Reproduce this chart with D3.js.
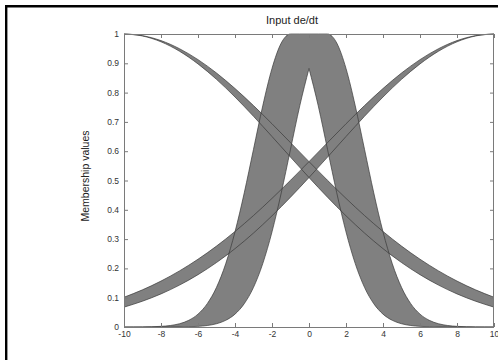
<!DOCTYPE html>
<html>
<head>
<meta charset="utf-8">
<script src="https://cdn.jsdelivr.net/npm/d3@7"></script>
<style>
  html, body { margin: 0; padding: 0; background: #fff; }
  svg { display: block; font-family: "Liberation Sans", Arial, sans-serif; }
</style>
</head>
<body>
<div id="chart"></div>
<script>
// x grid for the two shoulder sets (step 1)
const xWide = [-10, -9, -8, -7, -6, -5, -4, -3, -2, -1, 0, 1, 2, 3, 4, 5, 6, 7, 8, 9, 10];
const leftUpper = [1, 0.9943, 0.9774, 0.9498, 0.9125, 0.8668, 0.8139, 0.7556, 0.6935, 0.6292, 0.5644,
  0.5006, 0.4389, 0.3804, 0.3260, 0.2761, 0.2313, 0.1915, 0.1567, 0.1269, 0.1015];
const leftLower = [1, 0.9933, 0.9734, 0.9412, 0.8979, 0.8452, 0.7849, 0.7191, 0.6501, 0.5798, 0.5102,
  0.4430, 0.3795, 0.3207, 0.2674, 0.2200, 0.1786, 0.1430, 0.1130, 0.0881, 0.0678];
const rightUpper = [0.1015, 0.1269, 0.1567, 0.1915, 0.2313, 0.2761, 0.3260, 0.3804, 0.4389, 0.5006,
  0.5644, 0.6292, 0.6935, 0.7556, 0.8139, 0.8668, 0.9125, 0.9498, 0.9774, 0.9943, 1];
const rightLower = [0.0678, 0.0881, 0.1130, 0.1430, 0.1786, 0.2200, 0.2674, 0.3207, 0.3795, 0.4430,
  0.5102, 0.5798, 0.6501, 0.7191, 0.7849, 0.8452, 0.8979, 0.9412, 0.9734, 0.9933, 1];

// x grid for the middle set (step 0.5)
const xMid = [-10, -9.5, -9, -8.5, -8, -7.5, -7, -6.5, -6, -5.5, -5, -4.5, -4, -3.5, -3, -2.5, -2, -1.5, -1, -0.5,
  0, 0.5, 1, 1.5, 2, 2.5, 3, 3.5, 4, 4.5, 5, 5.5, 6, 6.5, 7, 7.5, 8, 8.5, 9, 9.5, 10];
const midUpper = [0, 0.0001, 0.0003, 0.0009, 0.0022, 0.0051, 0.0111, 0.0228, 0.0439, 0.0796, 0.1353, 0.2163,
  0.3247, 0.4578, 0.6065, 0.7548, 0.8825, 0.9692, 1, 1, 1, 1, 1, 0.9692, 0.8825, 0.7548, 0.6065, 0.4578,
  0.3247, 0.2163, 0.1353, 0.0796, 0.0439, 0.0228, 0.0111, 0.0051, 0.0022, 0.0009, 0.0003, 0.0001, 0];
const midLower = [0, 0, 0, 0, 0, 0.0001, 0.0003, 0.0009, 0.0022, 0.0051, 0.0111, 0.0228, 0.0439, 0.0796,
  0.1353, 0.2163, 0.3247, 0.4578, 0.6065, 0.7548, 0.8825, 0.7548, 0.6065, 0.4578, 0.3247, 0.2163, 0.1353,
  0.0796, 0.0439, 0.0228, 0.0111, 0.0051, 0.0022, 0.0009, 0.0003, 0.0001, 0, 0, 0, 0, 0];

const xTicks = [-10, -8, -6, -4, -2, 0, 2, 4, 6, 8, 10];
const yTicks = [0, 0.1, 0.2, 0.3, 0.4, 0.5, 0.6, 0.7, 0.8, 0.9, 1];
const titleText = "Input de/dt";
const yLabelText = "Membership values";

const width = 498, height = 360;
const plot = { left: 124, right: 494, top: 34, bottom: 327 };

const svg = d3.select("#chart").append("svg")
  .attr("width", width)
  .attr("height", height);

svg.append("rect").attr("width", width).attr("height", height).attr("fill", "#fff");

const x = d3.scaleLinear().domain([-10, 10]).range([plot.left, plot.right]);
const y = d3.scaleLinear().domain([0, 1]).range([plot.bottom, plot.top]);

const toRows = (xs, up, lo) => xs.map((v, i) => ({ x: v, up: up[i], lo: lo[i] }));

const bands = [
  toRows(xWide, leftUpper, leftLower),
  toRows(xWide, rightUpper, rightLower),
  // middle set is split at 0 so the lower curve keeps its sharp peak
  toRows(xMid, midUpper, midLower).filter(d => d.x <= 0),
  toRows(xMid, midUpper, midLower).filter(d => d.x >= 0)
];

const area = d3.area()
  .x(d => x(d.x))
  .y0(d => y(d.lo))
  .y1(d => y(d.up))
  .curve(d3.curveMonotoneX);

svg.append("g")
  .selectAll("path")
  .data(bands)
  .enter()
  .append("path")
  .attr("d", area)
  .attr("fill", "#808080");

// edge lines on top of all fills
const upLine = d3.line().x(d => x(d.x)).y(d => y(d.up)).curve(d3.curveMonotoneX);
const loLine = d3.line().x(d => x(d.x)).y(d => y(d.lo)).curve(d3.curveMonotoneX);
const edges = svg.append("g")
  .attr("fill", "none")
  .attr("stroke", "#3a3a3a")
  .attr("stroke-width", 0.7);
bands.forEach(b => {
  edges.append("path").attr("d", upLine(b));
  edges.append("path").attr("d", loLine(b));
});

// axes box with inward ticks, matlab style
const axisColor = "#7a7a7a";
const fmtY = d => (d === 0 || d === 1) ? String(d) : d.toFixed(1);

const gLeft = svg.append("g").attr("transform", `translate(${plot.left},0)`)
  .call(d3.axisLeft(y).tickValues(yTicks).tickFormat(fmtY).tickSize(-4).tickPadding(5));
const gRight = svg.append("g").attr("transform", `translate(${plot.right},0)`)
  .call(d3.axisRight(y).tickValues(yTicks).tickFormat("").tickSize(-4));
const gBottom = svg.append("g").attr("transform", `translate(0,${plot.bottom})`)
  .call(d3.axisBottom(x).tickValues(xTicks).tickFormat(d => String(d)).tickSize(-4).tickPadding(4));
const gTop = svg.append("g").attr("transform", `translate(0,${plot.top})`)
  .call(d3.axisTop(x).tickValues(xTicks).tickFormat("").tickSize(-4));

[gLeft, gRight, gBottom, gTop].forEach(g => {
  g.select(".domain").remove();
  g.selectAll(".tick line").attr("stroke", axisColor);
  g.selectAll(".tick text")
    .attr("fill", "#333")
    .style("font-size", "8.5px")
    .style("font-family", "'Liberation Sans', Arial, sans-serif");
});
gLeft.selectAll(".tick text").attr("dy", "0.3em");
gBottom.selectAll(".tick text").attr("dy", "0.7em");

svg.append("rect")
  .attr("x", plot.left + 0.5)
  .attr("y", plot.top + 0.5)
  .attr("width", plot.right - plot.left - 1)
  .attr("height", plot.bottom - plot.top)
  .attr("fill", "none")
  .attr("stroke", axisColor)
  .attr("stroke-width", 1);

svg.append("text")
  .attr("x", 292)
  .attr("y", 24)
  .attr("text-anchor", "middle")
  .attr("font-size", "11px")
  .attr("fill", "#222")
  .text(titleText);

svg.append("text")
  .attr("transform", `translate(89,176) rotate(-90)`)
  .attr("text-anchor", "middle")
  .attr("font-size", "10.5px")
  .attr("fill", "#222")
  .text(yLabelText);

// black frame on the left and top edges
svg.append("path")
  .attr("d", `M6.2,${height} V6.2 H${width}`)
  .attr("fill", "none")
  .attr("stroke", "#000")
  .attr("stroke-width", 2.4);
</script>
</body>
</html>
